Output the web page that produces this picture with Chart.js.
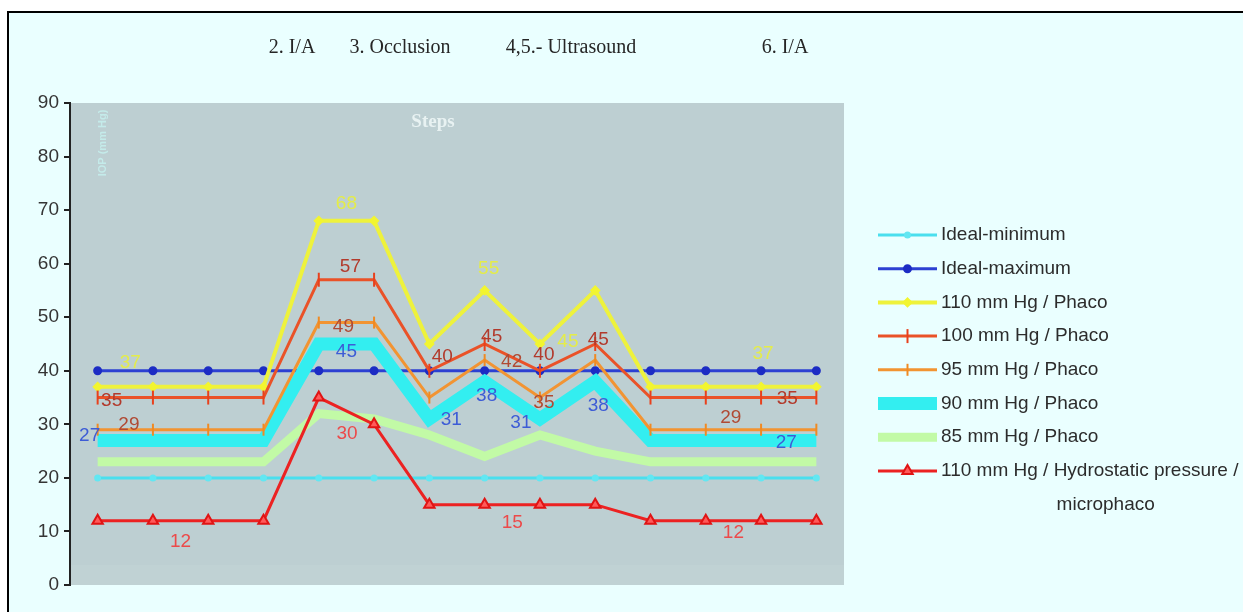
<!DOCTYPE html>
<html>
<head>
<meta charset="utf-8">
<script src="https://cdn.jsdelivr.net/npm/chart.js@4/dist/chart.umd.min.js"></script>
<style>
  html, body { margin: 0; padding: 0; background: #fff; }
  #wrap { position: relative; width: 1243px; height: 612px; }
</style>
</head>
<body>
<div id="wrap"><canvas id="c" width="1243" height="612"></canvas></div>
<script>
// Surgical steps along the x axis
const steps = ['1', '2', '3', '4', '5', '6', '7', '8', '9', '10', '11', '12', '13', '14'];

// Pressure values (mm Hg) per series
const idealMinimum = [20, 20, 20, 20, 20, 20, 20, 20, 20, 20, 20, 20, 20, 20];
const idealMaximum = [40, 40, 40, 40, 40, 40, 40, 40, 40, 40, 40, 40, 40, 40];
const phaco110 = [37, 37, 37, 37, 68, 68, 45, 55, 45, 55, 37, 37, 37, 37];
const phaco100 = [35, 35, 35, 35, 57, 57, 40, 45, 40, 45, 35, 35, 35, 35];
const phaco95 = [29, 29, 29, 29, 49, 49, 35, 42, 35, 42, 29, 29, 29, 29];
const phaco90 = [27, 27, 27, 27, 45, 45, 31, 38, 31, 38, 27, 27, 27, 27];
const phaco85 = [23, 23, 23, 23, 32, 31, 28, 24, 28, 25, 23, 23, 23, 23];
const hydro110 = [12, 12, 12, 12, 35, 30, 15, 15, 15, 15, 12, 12, 12, 12];

const seriesNames = [
  'Ideal-minimum',
  'Ideal-maximum',
  '110 mm Hg / Phaco',
  '100 mm Hg / Phaco',
  '95 mm Hg / Phaco',
  '90 mm Hg / Phaco',
  '85 mm Hg / Phaco',
  '110 mm Hg / Hydrostatic pressure / microphaco'
];
const seriesValues = [idealMinimum, idealMaximum, phaco110, phaco100, phaco95, phaco90, phaco85, hydro110];

const phaseLabels = ['2. I/A', '3. Occlusion', '4,5.- Ultrasound', '6. I/A'];
const panelTitle = 'Steps';
const axisCaption = 'IOP (mm Hg)';

// Line and marker styling per series
const styles = [
  { color: '#4adfee', width: 3, point: 'circle', radius: 2.5, fill: '#62e7f2', border: '#62e7f2', order: 8 },
  { color: '#2c40d2', width: 3, point: 'circle', radius: 3.5, fill: '#1c2cc4', border: '#1c2cc4', order: 7 },
  { color: '#eef23c', width: 4, point: 'rectRot', radius: 4, fill: '#f2f530', border: '#f2f530', order: 3, text: '#e4ec4a' },
  { color: '#ea5228', width: 3, point: 'line', rotation: 90, radius: 7, fill: '#e8401c', border: '#e8401c', order: 1, text: '#b23a2c' },
  { color: '#f29432', width: 3, point: 'line', rotation: 90, radius: 6, fill: '#f08a22', border: '#f08a22', order: 2, text: '#b04a34' },
  { color: '#33eef0', width: 13, point: false, order: 5, text: '#3d5cd6' },
  { color: '#c2faa6', width: 9, point: false, order: 6 },
  { color: '#ec2222', width: 3, point: 'triangle', radius: 6, fill: '#ff5a5a', border: '#e01414', order: 0, text: '#ec4a4a' }
];

// Value callouts: series, step position (x.5 = between two steps), pixel nudge
const callouts = [
  { s: 2, at: 0.5, dx: 5, dy: -24 }, { s: 2, at: 4.5, dx: 0, dy: -17 }, { s: 2, at: 7, dx: 4, dy: -22 },
  { s: 2, at: 8, dx: 28, dy: -2 }, { s: 2, at: 12, dx: 2, dy: -33 },
  { s: 3, at: 0, dx: 14, dy: 3 }, { s: 3, at: 4.5, dx: 4, dy: -13 }, { s: 3, at: 6, dx: 13, dy: -14 },
  { s: 3, at: 7, dx: 7, dy: -7 }, { s: 3, at: 8, dx: 4, dy: -16 }, { s: 3, at: 9, dx: 3, dy: -4 },
  { s: 3, at: 13, dx: -29, dy: 1 },
  { s: 4, at: 1, dx: -24, dy: -5 }, { s: 4, at: 4.5, dx: -3, dy: 4 }, { s: 4, at: 7, dx: 27, dy: 2 },
  { s: 4, at: 8, dx: 4, dy: 5 }, { s: 4, at: 11, dx: 25, dy: -12 },
  { s: 5, at: 0, dx: -8, dy: -5 }, { s: 5, at: 4.5, dx: 0, dy: 8 }, { s: 5, at: 6, dx: 22, dy: 1 },
  { s: 5, at: 7, dx: 2, dy: 14 }, { s: 5, at: 8, dx: -19, dy: 4 }, { s: 5, at: 9, dx: 3, dy: 24 },
  { s: 5, at: 13, dx: -30, dy: 2 },
  { s: 7, at: 1.5, dx: 0, dy: 21 }, { s: 7, at: 5, dx: -27, dy: 9 }, { s: 7, at: 7.5, dx: 0, dy: 18 },
  { s: 7, at: 11.5, dx: 0, dy: 12 }
];

const SANS = '"Liberation Sans", Arial, sans-serif';
const SERIF = '"Liberation Serif", "Times New Roman", serif';
Chart.defaults.font.family = SANS;

const datasets = seriesValues.map((vals, i) => {
  const st = styles[i];
  return {
    label: seriesNames[i],
    data: vals,
    order: st.order,
    borderColor: st.color,
    borderWidth: st.width,
    tension: 0,
    fill: false,
    borderJoinStyle: 'miter',
    pointStyle: st.point || 'circle',
    pointRadius: st.point ? st.radius : 0,
    pointHoverRadius: st.point ? st.radius : 0,
    pointRotation: st.rotation || 0,
    pointBackgroundColor: st.fill || st.color,
    pointBorderColor: st.border || st.color,
    pointBorderWidth: 2
  };
});

// Page, frame and plot panel backgrounds
const backdrop = {
  id: 'backdrop',
  beforeDraw(chart) {
    const { ctx, width, height, chartArea: a } = chart;
    ctx.save();
    ctx.fillStyle = '#ffffff';
    ctx.fillRect(0, 0, width, height);
    ctx.fillStyle = '#eaffff';
    ctx.fillRect(9, 13, width - 9, height - 13);
    ctx.strokeStyle = '#000';
    ctx.lineWidth = 2;
    ctx.beginPath();
    ctx.moveTo(width, 12); ctx.lineTo(8, 12); ctx.lineTo(8, height);
    ctx.stroke();
    ctx.fillStyle = '#bdcfd2';
    ctx.fillRect(a.left, a.top, a.right - a.left, a.bottom - a.top);
    ctx.fillStyle = 'rgba(214,228,230,0.15)';
    ctx.fillRect(a.left, a.bottom - 20, a.right - a.left, 20);
    ctx.restore();
  },
  beforeDatasetsDraw(chart) {
    const { ctx, chartArea: a } = chart;
    ctx.save();
    // phase headings above the panel
    const headX = [292, 400, 571, 785];
    ctx.fillStyle = '#262626';
    ctx.font = '20px ' + SERIF;
    ctx.textAlign = 'center';
    ctx.textBaseline = 'middle';
    phaseLabels.forEach((t, i) => ctx.fillText(t, headX[i], 48));
    // panel title
    ctx.fillStyle = 'rgba(240,248,248,0.85)';
    ctx.font = 'bold 19px ' + SERIF;
    ctx.fillText(panelTitle, 433, a.top + 19);
    // faint vertical caption
    ctx.translate(a.left + 33, a.top + 40);
    ctx.rotate(-Math.PI / 2);
    ctx.fillStyle = 'rgba(200,246,244,0.7)';
    ctx.font = 'bold 11px ' + SANS;
    ctx.fillText(axisCaption, 0, 0);
    ctx.restore();
  }
};

// Numeric callouts next to the points
const valueTags = {
  id: 'valueTags',
  afterDatasetsDraw(chart) {
    const { ctx } = chart;
    const yScale = chart.scales.y;
    ctx.save();
    ctx.font = '19px ' + SANS;
    ctx.textAlign = 'center';
    ctx.textBaseline = 'middle';
    callouts.forEach(c => {
      const meta = chart.getDatasetMeta(c.s);
      const i0 = Math.floor(c.at), i1 = Math.ceil(c.at);
      const f = c.at - i0;
      const x = meta.data[i0].x * (1 - f) + meta.data[i1].x * f;
      const v = seriesValues[c.s][i0];
      const y = yScale.getPixelForValue(v);
      ctx.fillStyle = styles[c.s].text;
      ctx.fillText(String(v), x + c.dx, y + c.dy);
    });
    ctx.restore();
  }
};

// Legend on the right: line sample with marker, then wrapped name
const sideLegend = {
  id: 'sideLegend',
  afterDraw(chart) {
    const { ctx } = chart;
    const x0 = 878, x1 = 937, tx = 941, top = 235, gap = 33.7, maxW = 298;
    ctx.save();
    ctx.font = '19px ' + SANS;
    ctx.textBaseline = 'middle';
    chart.data.datasets.forEach((ds, i) => {
      const st = styles[i];
      const y = top + gap * i;
      ctx.strokeStyle = st.color;
      ctx.lineWidth = st.width;
      ctx.lineCap = 'butt';
      ctx.beginPath(); ctx.moveTo(x0, y); ctx.lineTo(x1, y); ctx.stroke();
      if (st.point) {
        ctx.fillStyle = st.fill;
        ctx.strokeStyle = st.border;
        ctx.lineWidth = 2;
        Chart.helpers.drawPoint(ctx, { pointStyle: st.point, rotation: st.rotation || 0, radius: st.radius, borderWidth: 2 }, (x0 + x1) / 2, y);
      }
      // wrap the name to the available width
      const words = ds.label.split(' ');
      const lines = [];
      let cur = '';
      words.forEach(w => {
        const t = cur ? cur + ' ' + w : w;
        if (ctx.measureText(t).width > maxW && cur) { lines.push(cur); cur = w; } else { cur = t; }
      });
      lines.push(cur);
      ctx.fillStyle = '#2c2c2c';
      ctx.textAlign = 'left';
      ctx.fillText(lines[0], tx, y);
      const w0 = ctx.measureText(lines[0]).width;
      for (let k = 1; k < lines.length; k++) {
        ctx.textAlign = 'center';
        ctx.fillText(lines[k], tx + w0 / 2 + 16, y + gap * k);
      }
    });
    ctx.restore();
  }
};

new Chart(document.getElementById('c'), {
  type: 'line',
  data: { labels: steps, datasets },
  options: {
    responsive: false,
    animation: false,
    devicePixelRatio: 1,
    layout: { padding: { left: 0, top: 103, right: 399, bottom: 27 } },
    plugins: { legend: { display: false }, tooltip: { enabled: false } },
    scales: {
      x: { type: 'category', offset: true, display: false },
      y: {
        min: 0, max: 90,
        afterFit(scale) { scale.width = 70; },
        ticks: { stepSize: 10, color: '#353535', font: { size: 19, family: SANS }, padding: 5 },
        grid: { drawOnChartArea: false, drawTicks: true, tickLength: 6, color: '#222', lineWidth: 2 },
        border: { display: true, color: '#222', width: 2 }
      }
    }
  },
  plugins: [backdrop, valueTags, sideLegend]
});
</script>
</body>
</html>
